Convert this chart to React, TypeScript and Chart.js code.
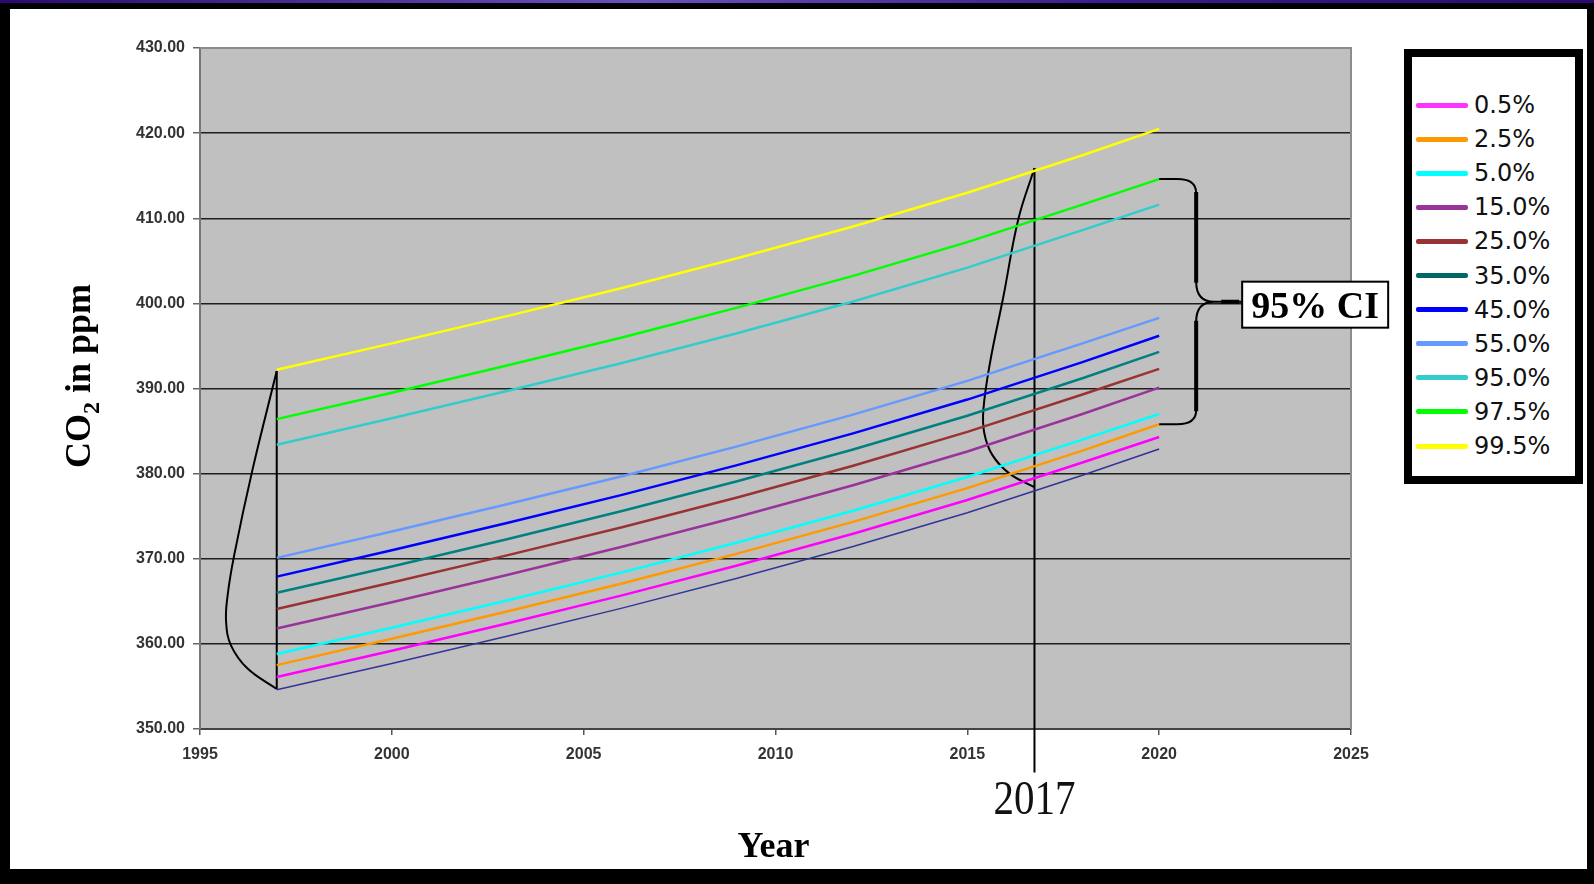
import { useEffect, useRef } from 'react'
import { Chart, registerables } from 'chart.js'

Chart.register(...registerables)

// years (lines start 1997, end 2020)
const years = [1997, 2000, 2003, 2006, 2009, 2012, 2015, 2018, 2020]

const seriesLabels = ['0.5%', '2.5%', '5.0%', '15.0%', '25.0%', '35.0%', '45.0%', '55.0%', '95.0%', '97.5%', '99.5%']
const seriesColors = ['#FF00FF', '#FF9900', '#00FFFF', '#993399', '#993333', '#008080', '#0000FF', '#6699FF', '#33CCCC', '#00FF00', '#FFFF00']
const legendColors = ['#FF33FF', '#FF9900', '#00FFFF', '#993399', '#993333', '#006666', '#0000FF', '#6699FF', '#33CCCC', '#00FF00', '#FFFF00']

const p005 = [356.1, 359.2, 362.4, 365.7, 369.2, 372.9, 376.9, 381.3, 384.3]
const p025 = [357.5, 360.6, 363.8, 367.1, 370.6, 374.3, 378.3, 382.7, 385.8]
const p050 = [358.8, 361.9, 365.1, 368.4, 371.9, 375.6, 379.6, 384.0, 387.0]
const p150 = [361.8, 364.9, 368.1, 371.4, 374.9, 378.6, 382.6, 387.0, 390.1]
const p250 = [364.1, 367.2, 370.4, 373.7, 377.2, 380.9, 384.9, 389.3, 392.3]
const p350 = [366.0, 369.1, 372.3, 375.6, 379.1, 382.8, 386.8, 391.2, 394.3]
const p450 = [367.9, 371.0, 374.2, 377.5, 381.0, 384.7, 388.7, 393.1, 396.2]
const p550 = [370.1, 373.2, 376.4, 379.7, 383.2, 386.9, 390.9, 395.3, 398.3]
const p950 = [383.4, 386.5, 389.7, 393.0, 396.5, 400.2, 404.2, 408.6, 411.6]
const p975 = [386.4, 389.5, 392.7, 396.0, 399.5, 403.2, 407.2, 411.6, 414.6]
const p995 = [392.2, 395.3, 398.5, 401.8, 405.3, 409.0, 413.0, 417.4, 420.5]
// unlabelled bottom line
const lowest = [354.6, 357.7, 360.9, 364.2, 367.7, 371.4, 375.4, 379.8, 382.9]

const series = [p005, p025, p050, p150, p250, p350, p450, p550, p950, p975, p995]

// hand-drawn distribution shapes
const curve1997Years = [1997, 1996.37, 1995.89, 1995.72, 1995.68, 1995.81, 1996.24, 1997]
const curve1997Values = [392.05, 380.5, 370.4, 365.7, 362.6, 359.8, 357.1, 354.7]
const curve2017Years = [2016.75, 2016.33, 2015.94, 2015.59, 2015.42, 2015.44, 2015.65, 2016.1, 2016.75]
const curve2017Values = [415.9, 409.9, 400.8, 393.0, 387.6, 384.8, 382.2, 380.0, 378.4]

const yMin = 350
const yMax = 430
const xMin = 1995
const xMax = 2025

const toPoints = (xs: number[], ys: number[]) => xs.map((x, i) => ({ x, y: ys[i] }))

const annotations = {
  id: 'annotations',
  beforeDraw(chart: any) {
    const { ctx, chartArea: a } = chart
    ctx.save()
    ctx.fillStyle = '#C0C0C0'
    ctx.fillRect(a.left, a.top, a.right - a.left, a.bottom - a.top)
    ctx.restore()
  },
  afterDraw(chart: any) {
    const { ctx, chartArea: a } = chart
    const xs = chart.scales.x
    const ys = chart.scales.y
    ctx.save()
    // plot border (top/right)
    ctx.strokeStyle = '#8c8c8c'
    ctx.lineWidth = 2
    ctx.beginPath()
    ctx.moveTo(a.left, a.top)
    ctx.lineTo(a.right, a.top)
    ctx.lineTo(a.right, a.bottom)
    ctx.stroke()

    // brace from 97.5% to 2.5% at 2020
    const x0 = xs.getPixelForValue(2020)
    const top = ys.getPixelForValue(p975[p975.length - 1])
    const bot = ys.getPixelForValue(p025[p025.length - 1])
    const mid = (top + bot) / 2
    ctx.strokeStyle = '#000'
    ctx.lineWidth = 2
    ctx.beginPath()
    ctx.moveTo(x0, top)
    ctx.lineTo(x0 + 18, top)
    ctx.quadraticCurveTo(x0 + 37, top, x0 + 37, top + 14)
    ctx.moveTo(x0 + 37, mid - 20)
    ctx.quadraticCurveTo(x0 + 37, mid, x0 + 55, mid)
    ctx.lineTo(x0 + 83, mid)
    ctx.moveTo(x0 + 55, mid)
    ctx.quadraticCurveTo(x0 + 37, mid, x0 + 37, mid + 20)
    ctx.moveTo(x0 + 37, bot - 14)
    ctx.quadraticCurveTo(x0 + 37, bot, x0 + 18, bot)
    ctx.lineTo(x0, bot)
    ctx.stroke()
    ctx.lineWidth = 4
    ctx.beginPath()
    ctx.moveTo(x0 + 37, top + 13)
    ctx.lineTo(x0 + 37, mid - 19)
    ctx.moveTo(x0 + 37, mid + 19)
    ctx.lineTo(x0 + 37, bot - 13)
    ctx.moveTo(x0 + 62, mid)
    ctx.lineTo(x0 + 80, mid)
    ctx.stroke()

    // 95% CI box
    const bx = x0 + 83
    const by = mid - 20
    ctx.fillStyle = '#fff'
    ctx.fillRect(bx, by, 146, 46)
    ctx.lineWidth = 2
    ctx.strokeRect(bx, by, 146, 46)
    ctx.fillStyle = '#000'
    ctx.font = 'bold 38px "Liberation Serif"'
    ctx.textAlign = 'center'
    ctx.textBaseline = 'alphabetic'
    ctx.fillText('95% CI', bx + 73, by + 36)

    // 2017 label
    ctx.save()
    ctx.translate(xs.getPixelForValue(2016.75), 814)
    ctx.scale(1, 1.18)
    ctx.font = '41px "Liberation Serif"'
    ctx.fillStyle = '#111'
    ctx.fillText('2017', 0, 0)
    ctx.restore()

    // x title
    ctx.font = 'bold 36px "Liberation Serif"'
    ctx.fillStyle = '#000'
    ctx.fillText('Year', (a.left + a.right) / 2 - 2, 857)

    // y title with subscript
    ctx.save()
    ctx.translate(90, 376)
    ctx.rotate(-Math.PI / 2)
    ctx.textAlign = 'left'
    const big = 'bold 36px "Liberation Serif"'
    const small = 'bold 24px "Liberation Serif"'
    ctx.font = big
    const w1 = ctx.measureText('CO').width
    const w3 = ctx.measureText(' in ppm').width
    ctx.font = small
    const w2 = ctx.measureText('2').width
    let x = -(w1 + w2 + w3) / 2
    ctx.font = big
    ctx.fillText('CO', x, 0)
    x += w1
    ctx.font = small
    ctx.fillText('2', x, 9)
    x += w2
    ctx.font = big
    ctx.fillText(' in ppm', x, 0)
    ctx.restore()

    ctx.restore()
  },
}

const App = () => {
  const chartRef = useRef<HTMLCanvasElement>(null)
  const chartInstance = useRef<Chart | null>(null)

  useEffect(() => {
    document.body.style.margin = '0'
    if (!chartRef.current) return
    if (chartInstance.current) chartInstance.current.destroy()
    const ctx = chartRef.current.getContext('2d')
    if (!ctx) return

    const black = { borderColor: '#000', borderWidth: 2, pointRadius: 0, fill: false }

    chartInstance.current = new Chart(ctx, {
      type: 'line',
      data: {
        datasets: [
          ...series.map((vals, i) => ({
            label: seriesLabels[i],
            data: toPoints(years, vals),
            borderColor: seriesColors[i],
            borderWidth: 2.5,
            pointRadius: 0,
            fill: false,
            tension: 0,
          })),
          {
            label: 'lowest',
            data: toPoints(years, lowest),
            borderColor: '#333399',
            borderWidth: 1.5,
            pointRadius: 0,
            fill: false,
          },
          { label: 'curve1997', data: toPoints(curve1997Years, curve1997Values), tension: 0.4, ...black },
          { label: 'line1997', data: [{ x: 1997, y: 392.05 }, { x: 1997, y: 354.7 }], ...black },
          { label: 'curve2017', data: toPoints(curve2017Years, curve2017Values), tension: 0.4, ...black },
          { label: 'line2017', data: [{ x: 2016.75, y: 415.9 }, { x: 2016.75, y: 344.9 }], clip: false, ...black },
        ] as any,
      },
      options: {
        animation: false,
        responsive: false,
        devicePixelRatio: 1,
        layout: { padding: { left: 0, top: 48, right: 243, bottom: 115 } },
        plugins: { legend: { display: false }, tooltip: { enabled: false } },
        scales: {
          x: {
            type: 'linear',
            min: xMin,
            max: xMax,
            afterFit: (s: any) => { s.height = 40 },
            ticks: {
              stepSize: 5,
              padding: 10,
              color: '#333',
              font: { family: '"Liberation Sans"', size: 16, weight: 'bold' },
              callback: (v: any) => String(v),
            },
            grid: { drawOnChartArea: false, tickLength: 6, tickColor: '#555', lineWidth: 1.5 },
            border: { color: '#444', width: 2 },
          },
          y: {
            type: 'linear',
            min: yMin,
            max: yMax,
            afterFit: (s: any) => { s.width = 200 },
            ticks: {
              stepSize: 10,
              padding: 8,
              color: '#333',
              font: { family: '"Liberation Sans"', size: 16, weight: 'bold' },
              callback: (v: any) => Number(v).toFixed(2),
            },
            grid: {
              color: (c: any) => (c.tick && (c.tick.value === yMin || c.tick.value === yMax) ? 'rgba(0,0,0,0)' : '#1e1e1e'),
              lineWidth: 1.5,
              tickLength: 7,
              tickColor: '#666',
            },
            border: { color: '#777', width: 2 },
          },
        },
      } as any,
      plugins: [annotations],
    })

    return () => {
      if (chartInstance.current) {
        chartInstance.current.destroy()
        chartInstance.current = null
      }
    }
  }, [])

  return (
    <div style={{ position: 'relative', width: 1594, height: 884, background: '#000', overflow: 'hidden' }}>
      {/* top strip */}
      <div style={{ position: 'absolute', left: 0, top: 0, width: 1594, height: 3, background: 'linear-gradient(90deg, #2a0a70, #6a50c0 40%, #3a1a90 70%, #2a0a70)' }} />
      {/* white page */}
      <div style={{ position: 'absolute', left: 10, top: 9, width: 1577, height: 860, background: '#fff' }} />
      <canvas ref={chartRef} width={1594} height={884} style={{ position: 'absolute', left: 0, top: 0, width: 1594, height: 884 }} />
      {/* legend */}
      <div style={{ position: 'absolute', left: 1404, top: 49, width: 179, height: 435, border: '8px solid #000', boxSizing: 'border-box', background: '#fff' }} />
      {seriesLabels.map((label, i) => (
        <div key={label} style={{ position: 'absolute', left: 1416, top: 105 + 34.1 * i - 15, height: 30, display: 'flex', alignItems: 'center' }}>
          <span style={{ display: 'inline-block', width: 52, height: 5, borderRadius: 2, background: legendColors[i] }} />
          <span style={{ marginLeft: 6, fontFamily: '"DejaVu Sans"', fontSize: 24, color: '#111', lineHeight: '30px' }}>{label}</span>
        </div>
      ))}
    </div>
  )
}

export default App
